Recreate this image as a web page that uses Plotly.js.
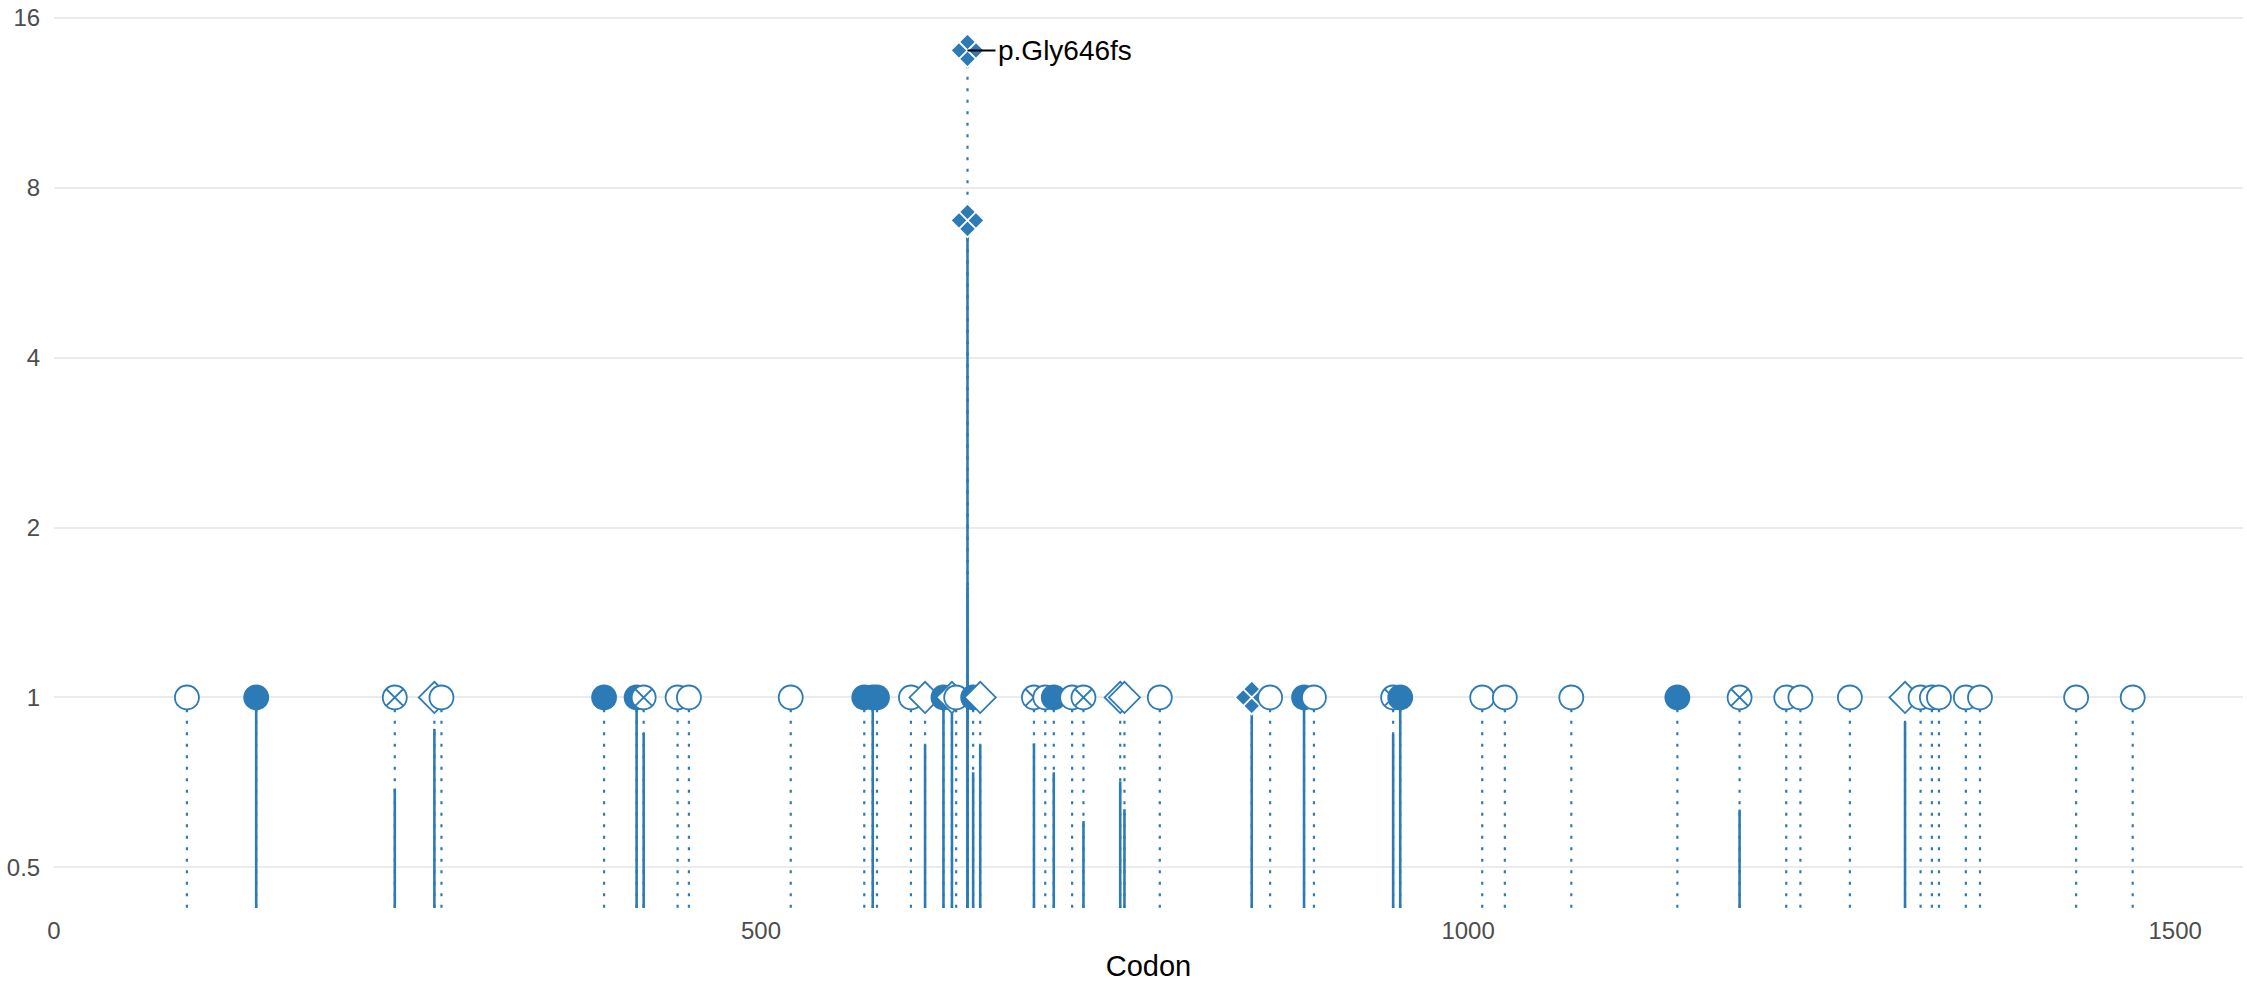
<!DOCTYPE html>
<html>
<head>
<meta charset="utf-8">
<script src="https://cdn.plot.ly/plotly-3.0.1.min.js"></script>
<style>
html,body{margin:0;padding:0;background:#ffffff;}
#chart{width:2247px;height:986px;}
</style>
</head>
<body>
<div id="chart"></div>
<script>
// ---- data ----
const codon = [94, 143, 241, 269, 274, 389, 412, 417, 441, 449,
               521, 573, 579, 582, 606, 616, 629, 635, 638, 646,
               646, 650, 655, 693, 701, 707, 720, 728, 754, 757,
               782, 847, 860, 884, 891, 947, 952, 1010, 1026, 1073,
               1148, 1192, 1225, 1235, 1270, 1309, 1320, 1328, 1333, 1352,
               1362, 1430, 1470];
const count = [1, 1, 1, 1, 1, 1, 1, 1, 1, 1,
               1, 1, 1, 1, 1, 1, 1, 1, 1, 14,
               7, 1, 1, 1, 1, 1, 1, 1, 1, 1,
               1, 1, 1, 1, 1, 1, 1, 1, 1, 1,
               1, 1, 1, 1, 1, 1, 1, 1, 1, 1,
               1, 1, 1];
const mutClass = ['open', 'filled', 'cross', 'diamondOpen', 'open', 'filled', 'filled', 'cross', 'open', 'open',
                  'open', 'filled', 'filled', 'filled', 'open', 'diamondOpen', 'filled', 'diamondOpen', 'open', 'diamondFilled',
                  'diamondFilled', 'filled', 'diamondOpen', 'cross', 'open', 'filled', 'open', 'cross', 'diamondOpen', 'diamondOpen',
                  'open', 'diamondFilled', 'open', 'filled', 'open', 'cross', 'filled', 'open', 'open', 'open',
                  'filled', 'cross', 'open', 'open', 'open', 'diamondOpen', 'open', 'open', 'open', 'open',
                  'open', 'open', 'open'];
// height of the solid stem (null = dotted stem only)
const solidTop = [null, 1, 0.69, 0.88, null, null, 1, 0.865, null, null,
                  null, null, 1, null, null, 0.823, 1, 1, null, 1.57,
                  7, 0.737, 0.823, 0.829, null, 0.737, null, 0.604, 0.71, 0.634,
                  null, 1, null, 1, null, 0.86, 1, null, null, null,
                  null, 0.633, null, null, null, 0.904, null, null, null, null,
                  null, null, null];
const yTicks = [0.5, 1, 2, 4, 8, 16];
const xTicks = [0, 500, 1000, 1500];
const labelCodon = [646];
const labelCount = [14];
const labelText = ['p.Gly646fs'];

// ---- styling ----
const BLUE = '#2c7bb6';
const symbolOf = {open: 'circle', filled: 'circle', cross: 'circle-x', diamondOpen: 'diamond', diamondFilled: 'diamond-x'};
const fillOf = {open: '#ffffff', filled: BLUE, cross: '#ffffff', diamondOpen: '#ffffff', diamondFilled: BLUE};
const edgeOf = {open: BLUE, filled: BLUE, cross: BLUE, diamondOpen: BLUE, diamondFilled: '#ffffff'};
const sizeOf = {open: 24, filled: 24, cross: 24, diamondOpen: 24, diamondFilled: 26};

const yRange = [-0.3729, 1.2355];
const xRange = [0, 1548];
const yBottom = Math.pow(10, yRange[0] - 0.02);

// stems
const dotX = [], dotY = [];
codon.forEach((c, i) => { dotX.push(c, c, null); dotY.push(yBottom, count[i], null); });
const solX = [], solY = [];
codon.forEach((c, i) => { if (solidTop[i] !== null) { solX.push(c, c, null); solY.push(yBottom, solidTop[i], null); } });

// markers sorted by codon (drawing order)
const order = codon.map((c, i) => i).sort((a, b) => codon[a] - codon[b]);

const traces = [
  {type: 'scatter', mode: 'lines', x: dotX, y: dotY, hoverinfo: 'skip', showlegend: false,
   line: {color: BLUE, width: 2.2, dash: '3px,8.5px'}},
  {type: 'scatter', mode: 'lines', x: solX, y: solY, hoverinfo: 'skip', showlegend: false,
   line: {color: BLUE, width: 2.6}},
  {type: 'scatter', mode: 'markers', showlegend: false,
   x: order.map(i => codon[i]), y: order.map(i => count[i]),
   marker: {size: order.map(i => sizeOf[mutClass[i]]), opacity: 1,
            symbol: order.map(i => symbolOf[mutClass[i]]),
            color: order.map(i => fillOf[mutClass[i]]),
            line: {color: order.map(i => edgeOf[mutClass[i]]), width: 1.8}},
   cliponaxis: false}
];

const layout = {
  width: 2247, height: 986,
  margin: {l: 54, r: 4, t: 0, b: 78, pad: 0},
  paper_bgcolor: '#ffffff', plot_bgcolor: '#ffffff',
  font: {family: 'Liberation Sans, Arial, sans-serif', color: '#4d4d4d', size: 24},
  showlegend: false,
  xaxis: {range: xRange, tickvals: xTicks, ticktext: xTicks.map(String),
          showgrid: false, zeroline: false, showline: false,
          ticks: 'outside', ticklen: 1, tickcolor: 'rgba(0,0,0,0)',
          tickfont: {size: 24, color: '#4d4d4d'},
          title: {text: 'Codon', font: {size: 29, color: '#000000'}, standoff: 12},
          automargin: false},
  yaxis: {type: 'log', range: yRange, tickvals: yTicks, ticktext: yTicks.map(String),
          showgrid: true, gridcolor: '#ebebeb', gridwidth: 2, zeroline: false, showline: false,
          ticks: 'outside', ticklen: 8, tickcolor: 'rgba(0,0,0,0)',
          tickfont: {size: 24, color: '#4d4d4d'},
          automargin: false},
  annotations: labelText.map((t, i) => ({
    x: labelCodon[i], y: Math.log10(labelCount[i]), xref: 'x', yref: 'y',
    text: t, showarrow: true, arrowhead: 0, arrowwidth: 2, arrowcolor: '#000000',
    ax: 28, ay: 0, xanchor: 'left', yanchor: 'middle', standoff: 0,
    font: {size: 28, color: '#000000'}
  }))
};

Plotly.newPlot('chart', traces, layout, {displayModeBar: false, staticPlot: true});
</script>
</body>
</html>
